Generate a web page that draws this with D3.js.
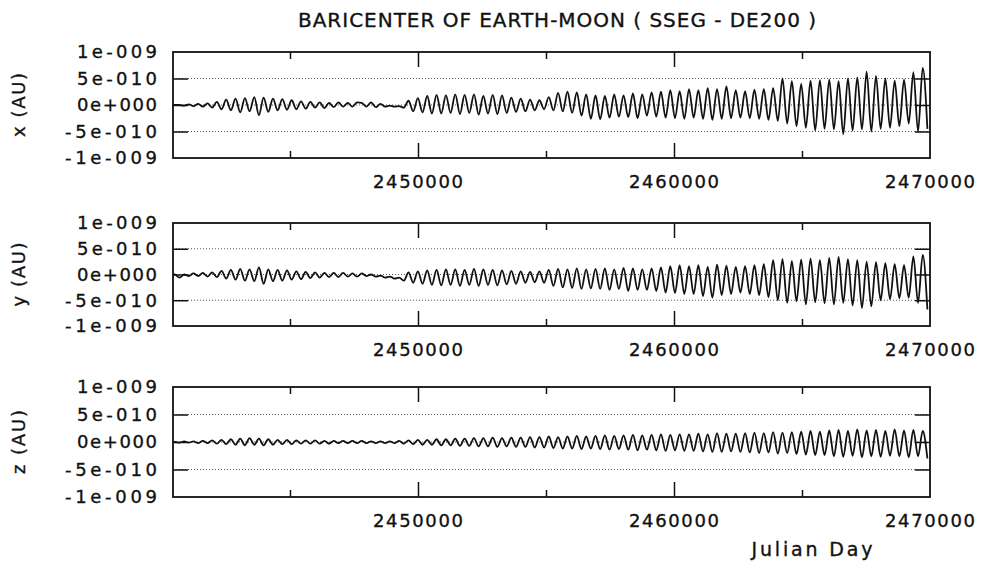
<!DOCTYPE html>
<html>
<head>
<meta charset="utf-8">
<script src="https://cdn.jsdelivr.net/npm/d3@7"></script>
<style>
  html, body { margin: 0; padding: 0; background: #fff; }
  svg { display: block; }
  text { font-family: "DejaVu Sans", sans-serif; fill: #111; stroke: #111; stroke-width: 0.35px; }
</style>
</head>
<body>
<svg id="chart" width="986" height="566"></svg>
<script>
// ---- Data (values in units of 1e-10 AU, successive half-year extrema) ----
const title = "BARICENTER OF EARTH-MOON ( SSEG - DE200 )";
const xAxisTitle = "Julian Day";
const seriesNames = ["x (AU)", "y (AU)", "z (AU)"];
const jdStart = 2440500;     // first sample (Julian Day)
const jdStep = 182.6;        // half a year between samples
const xDomain = [2440430, 2470000];
const yDomain = [-1e-9, 1e-9];
const yTicks = [1e-9, 5e-10, 0, -5e-10, -1e-9];
const yTickLabels = ["1e-009", "5e-010", "0e+000", "-5e-010", "-1e-009"];
const xMajorTicks = [2450000, 2460000, 2470000];
const xMinorTicks = [2445000, 2455000, 2465000];

const xValues = [
  0, 0, -0.1, 0.1, -0.2, 0.2, -0.3, 0.3, -0.5, 0.6,
  -0.8, 1.0, -1.0, 1.2, -1.4, 1.3, -1.2, 1.5, -1.9, 1.4,
  -1.3, 1.2, -1.0, 1.1, -0.9, 0.9, -0.8, 0.7, -0.7, 0.6,
  -0.5, 0.5, -0.6, 0.4, -0.4, 0.5, -0.3, 0.4, -0.3, 0.5,
  0.4, -0.3, 0.5, -0.4, 0.2, -0.3, -0.1, -0.3, -0.2, -0.5,
  0.8, -1.2, 1.3, -1.4, 1.7, -1.6, 1.9, -1.6, 1.8, -1.5,
  2.0, -1.7, 1.9, -1.5, 2.0, -1.8, 1.7, -1.6, 1.9, -1.7,
  1.8, -1.5, 1.4, -1.3, 1.2, -1.2, 1.0, -1.0, 0.9, -0.8,
  1.5, -1.0, 2.3, -1.2, 2.5, -1.5, 2.4, -2.0, 2.0, -2.6,
  1.8, -2.7, 1.7, -2.4, 2.0, -2.2, 1.8, -2.3, 2.2, -2.5,
  2.0, -2.0, 2.4, -2.2, 2.5, -2.4, 2.8, -2.5, 2.6, -2.6,
  3.0, -2.4, 2.8, -2.6, 3.2, -2.8, 3.0, -2.6, 3.5, -2.5,
  2.8, -2.4, 2.6, -2.5, 2.9, -2.6, 3.0, -2.8, 3.2, -3.0,
  5.0, -3.5, 4.5, -4.0, 4.0, -4.3, 4.6, -4.8, 4.7, -4.5,
  4.8, -4.6, 4.5, -5.5, 5.0, -4.8, 5.2, -4.6, 6.3, -5.0,
  5.5, -4.5, 5.0, -4.3, 4.6, -4.0, 4.8, -3.5, 6.2, -5.0,
  7.0, -4.5
];
const yValues = [
  0, -0.6, 0, -0.3, 0.2, -0.3, 0.3, -0.4, 0.4, -0.5,
  0.7, -0.8, 0.9, -1.0, 1.1, -1.2, 1.0, -1.3, 1.4, -1.8,
  1.0, -1.3, 0.9, -1.2, 0.8, -1.0, 0.6, -0.9, 0.5, -0.7,
  0.4, -0.6, 0.3, -0.5, 0.3, -0.5, 0.3, -0.4, 0.2, -0.4,
  0.2, -0.3, 0.0, -0.4, -0.2, -0.6, -0.4, -0.8, -0.6, -1.2,
  0.4, -1.6, 0.6, -1.8, 0.8, -2.0, 0.9, -2.1, 1.0, -2.0,
  1.0, -2.2, 0.9, -2.0, 1.1, -2.2, 1.0, -2.0, 0.9, -2.1,
  0.8, -1.9, 0.7, -1.8, 0.6, -1.6, 0.5, -1.5, 0.6, -1.6,
  0.9, -2.2, 1.1, -2.5, 1.0, -2.6, 1.2, -2.8, 1.0, -2.7,
  1.1, -2.8, 1.2, -3.0, 1.0, -2.8, 1.3, -3.2, 1.2, -3.0,
  1.0, -3.0, 1.2, -3.2, 1.4, -3.5, 1.6, -3.6, 1.8, -3.8,
  1.6, -3.8, 1.8, -4.2, 1.5, -4.5, 1.9, -4.0, 1.7, -3.8,
  1.5, -3.5, 1.6, -3.8, 1.8, -4.0, 2.0, -4.4, 2.8, -5.0,
  3.0, -5.5, 2.6, -5.2, 2.9, -5.8, 3.1, -5.4, 2.8, -5.6,
  3.2, -5.8, 3.4, -5.5, 3.0, -6.0, 2.8, -6.5, 2.5, -6.2,
  2.4, -5.0, 2.2, -4.8, 2.0, -4.6, 1.8, -4.5, 3.5, -5.5,
  3.8, -6.8
];
const zValues = [
  0, -0.1, 0.1, -0.1, 0.1, -0.2, 0.2, -0.2, 0.3, -0.3,
  0.4, -0.4, 0.5, -0.5, 0.6, -0.6, 0.7, -0.5, 0.6, -0.6,
  0.5, -0.5, 0.4, -0.4, 0.4, -0.4, 0.3, -0.3, 0.3, -0.3,
  0.3, -0.3, 0.2, -0.3, 0.2, -0.2, 0.2, -0.2, 0.2, -0.2,
  0.2, -0.2, 0.1, -0.2, 0.1, -0.2, 0.1, -0.2, 0.2, -0.3,
  0.3, -0.4, 0.4, -0.5, 0.4, -0.5, 0.5, -0.6, 0.5, -0.6,
  0.6, -0.7, 0.6, -0.7, 0.7, -0.8, 0.7, -0.8, 0.8, -0.9,
  0.7, -0.8, 0.8, -0.9, 0.8, -0.9, 0.9, -1.0, 0.9, -1.0,
  1.0, -1.1, 0.9, -1.2, 1.0, -1.2, 1.1, -1.3, 1.0, -1.2,
  1.1, -1.3, 1.2, -1.4, 1.1, -1.3, 1.2, -1.4, 1.3, -1.5,
  1.2, -1.4, 1.3, -1.5, 1.4, -1.6, 1.3, -1.5, 1.4, -1.6,
  1.4, -1.6, 1.5, -1.7, 1.4, -1.8, 1.6, -1.8, 1.5, -1.7,
  1.5, -1.8, 1.6, -1.9, 1.7, -2.0, 1.6, -1.9, 1.8, -2.1,
  1.7, -2.0, 1.8, -2.2, 1.9, -2.3, 2.0, -2.4, 1.9, -2.4,
  2.1, -2.6, 2.2, -2.7, 2.0, -2.5, 2.3, -2.8, 2.1, -2.6,
  2.2, -2.7, 2.0, -2.5, 2.3, -2.6, 2.1, -2.8, 2.2, -2.6,
  2.0, -3.0
];
const valueUnit = 1e-10;

// ---- Layout ----
const svg = d3.select("#chart");
const left = 173, right = 930;
const panels = [
  { top: 52, bottom: 158, values: xValues, name: seriesNames[0] },
  { top: 223, bottom: 326, values: yValues, name: seriesNames[1] },
  { top: 387, bottom: 497, values: zValues, name: seriesNames[2] }
];
const x = d3.scaleLinear().domain(xDomain).range([left, right]);

svg.append("text")
  .attr("x", 557).attr("y", 27)
  .attr("text-anchor", "middle")
  .attr("font-size", 20)
  .attr("textLength", 518).attr("lengthAdjust", "spacing")
  .text(title);

panels.forEach(p => {
  const y = d3.scaleLinear().domain(yDomain).range([p.bottom, p.top]);
  const g = svg.append("g");

  // dotted grid lines
  g.selectAll("line.grid").data(yTicks.slice(1, 4)).enter().append("line")
    .attr("x1", left).attr("x2", right)
    .attr("y1", d => y(d)).attr("y2", d => y(d))
    .attr("stroke", "#444").attr("stroke-width", 0.9)
    .attr("stroke-dasharray", "1,2");

  // data line
  const pts = p.values.map((v, i) => [jdStart + i * jdStep, v * valueUnit]);
  const line = d3.line()
    .x(d => x(d[0])).y(d => y(d[1]))
    .curve(d3.curveMonotoneX);
  g.append("path").datum([[xDomain[0], 0]].concat(pts))
    .attr("d", line)
    .attr("fill", "none").attr("stroke", "#111").attr("stroke-width", 1.8)
    .attr("stroke-linejoin", "round");

  // frame
  g.append("rect")
    .attr("x", left).attr("y", p.top)
    .attr("width", right - left).attr("height", p.bottom - p.top)
    .attr("fill", "none").attr("stroke", "#111").attr("stroke-width", 1.8);

  // y ticks (inward, both sides)
  const yAxisL = d3.axisLeft(y).tickValues(yTicks.slice(1, 4)).tickSize(-15).tickFormat("");
  const yAxisR = d3.axisRight(y).tickValues(yTicks.slice(1, 4)).tickSize(-15).tickFormat("");
  const gl = g.append("g").attr("transform", `translate(${left},0)`).call(yAxisL);
  const gr = g.append("g").attr("transform", `translate(${right},0)`).call(yAxisR);
  [gl, gr].forEach(a => {
    a.select(".domain").remove();
    a.selectAll("line").attr("stroke", "#111").attr("stroke-width", 1.5);
  });

  // y tick labels
  g.selectAll("text.ylab").data(yTicks).enter().append("text")
    .attr("x", 157).attr("y", d => y(d))
    .attr("dy", "0.36em")
    .attr("text-anchor", "end")
    .attr("font-size", 18)
    .attr("textLength", (d, i) => (yTickLabels[i].length === 7 ? 92 : 80))
    .attr("lengthAdjust", "spacing")
    .text((d, i) => yTickLabels[i]);

  // x ticks (inward, top and bottom)
  const mkX = (ticks, len) => {
    const b = g.append("g").attr("transform", `translate(0,${p.bottom})`)
      .call(d3.axisBottom(x).tickValues(ticks).tickSize(-len).tickFormat(""));
    const t = g.append("g").attr("transform", `translate(0,${p.top})`)
      .call(d3.axisTop(x).tickValues(ticks).tickSize(-len).tickFormat(""));
    [b, t].forEach(a => {
      a.select(".domain").remove();
      a.selectAll("line").attr("stroke", "#111").attr("stroke-width", 1.5);
    });
  };
  mkX(xMajorTicks.filter(d => d < xDomain[1]), 15);
  mkX(xMinorTicks, 7);

  // x tick labels
  g.selectAll("text.xlab").data(xMajorTicks).enter().append("text")
    .attr("x", d => x(d)).attr("y", p.bottom + 30)
    .attr("text-anchor", "middle")
    .attr("font-size", 18)
    .attr("textLength", 90).attr("lengthAdjust", "spacing")
    .text(d => d3.format("d")(d));

  // y axis title
  const cy = (p.top + p.bottom) / 2;
  g.append("text")
    .attr("transform", `translate(25,${cy}) rotate(-90)`)
    .attr("text-anchor", "middle")
    .attr("font-size", 18)
    .attr("textLength", 64).attr("lengthAdjust", "spacing")
    .text(p.name);
});

svg.append("text")
  .attr("x", 812).attr("y", 556)
  .attr("text-anchor", "middle")
  .attr("font-size", 19)
  .attr("textLength", 121).attr("lengthAdjust", "spacing")
  .text(xAxisTitle);
</script>
</body>
</html>
